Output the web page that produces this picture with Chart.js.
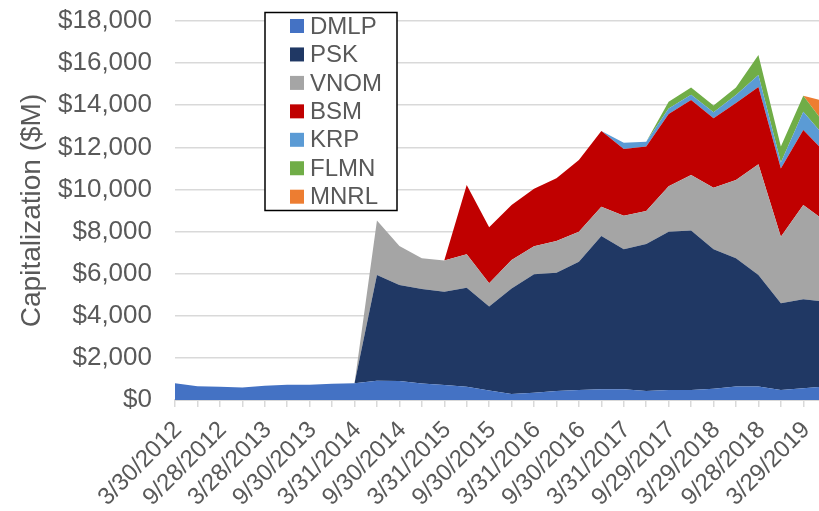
<!DOCTYPE html>
<html>
<head>
<meta charset="utf-8">
<script src="https://cdn.jsdelivr.net/npm/chart.js@4/dist/chart.umd.min.js"></script>
<style>
  html, body { margin: 0; padding: 0; background: #ffffff; overflow: hidden; }
  #wrap { width: 819px; height: 511px; position: relative; }
</style>
</head>
<body>
<div id="wrap"><canvas id="c" width="819" height="511"></canvas></div>
<script>
// Quarter-end dates (category axis)
const dates = [
  "3/30/2012","6/29/2012","9/28/2012","12/31/2012",
  "3/28/2013","6/28/2013","9/30/2013","12/31/2013",
  "3/31/2014","6/30/2014","9/30/2014","12/31/2014",
  "3/31/2015","6/30/2015","9/30/2015","12/31/2015",
  "3/31/2016","6/30/2016","9/30/2016","12/30/2016",
  "3/31/2017","6/30/2017","9/29/2017","12/29/2017",
  "3/29/2018","6/29/2018","9/28/2018","12/31/2018",
  "3/29/2019","6/28/2019"
];

// Series values, capitalization in $M (stacked)
const seriesNames = ["DMLP","PSK","VNOM","BSM","KRP","FLMN","MNRL"];
const DMLP = [790,650,630,590,680,720,720,770,800,920,900,780,710,630,450,280,340,425,475,510,510,430,475,480,530,640,640,470,560,650];
const PSK  = [0,0,0,0,0,0,0,0,0,5020,4560,4490,4435,4705,3985,5020,5635,5620,6095,7280,6645,6980,7520,7565,6625,6090,5300,4120,4220,4015];
const VNOM = [0,0,0,0,0,0,0,0,0,2580,1855,1460,1475,1585,1105,1350,1325,1505,1425,1390,1600,1570,2155,2645,2930,3720,5255,3165,4480,3810];
const BSM  = [0,0,0,0,0,0,0,0,0,0,0,0,0,3290,2660,2610,2730,2980,3405,3595,3165,3055,3430,3560,3295,3660,3670,3245,3565,3245];
const KRP  = [0,0,0,0,0,0,0,0,0,0,0,0,0,0,0,0,0,0,0,0,300,235,270,250,290,380,575,280,870,735];
const FLMN = [0,0,0,0,0,0,0,0,0,0,0,0,0,0,0,0,0,0,0,0,0,0,320,340,320,350,950,755,755,585];
const MNRL = [0,0,0,0,0,0,0,0,0,0,0,0,0,0,0,0,0,0,0,0,0,0,0,0,0,0,0,0,0,1130];

const seriesValues = [DMLP, PSK, VNOM, BSM, KRP, FLMN, MNRL];
const seriesColors = ["#4472C4","#203864","#A5A5A5","#C00000","#5B9BD5","#70AD47","#ED7D31"];

// y-axis ticks
const yMin = 0, yMax = 18000, yStep = 2000;

const datasets = seriesNames.map((name, k) => ({
  label: name,
  data: seriesValues[k].map((v, i) => ({ x: i, y: v })),
  backgroundColor: seriesColors[k],
  borderColor: "rgba(0,0,0,0)",
  borderWidth: 0,
  pointRadius: 0,
  pointHoverRadius: 0,
  tension: 0,
  fill: k === 0 ? "origin" : "-1"
}));

const boxLegend = {
  id: "boxLegend",
  afterDraw(chart) {
    const ctx = chart.ctx;
    ctx.save();
    const bx = 265, by = 12.5, bw = 132, bh = 198;
    ctx.fillStyle = "#ffffff";
    ctx.fillRect(bx, by, bw, bh);
    ctx.strokeStyle = "#000000";
    ctx.lineWidth = 1.5;
    ctx.strokeRect(bx, by, bw, bh);
    ctx.font = "24px 'Liberation Sans', Arial, sans-serif";
    ctx.textBaseline = "middle";
    ctx.textAlign = "left";
    chart.data.datasets.forEach((ds, k) => {
      const cy = 26 + k * 28.45;
      ctx.fillStyle = ds.backgroundColor;
      ctx.fillRect(290, cy - 7, 14, 14);
      ctx.fillStyle = "#595959";
      ctx.fillText(ds.label, 310, cy + 1);
    });
    ctx.restore();
  }
};

new Chart(document.getElementById("c"), {
  type: "line",
  data: { datasets },
  plugins: [boxLegend],
  options: {
    responsive: false,
    animation: false,
    devicePixelRatio: 1,
    layout: { padding: { top: 21, right: 0, left: 0, bottom: 0 } },
    plugins: {
      legend: { display: false },
      tooltip: { enabled: false }
    },
    scales: {
      x: {
        type: "linear",
        min: 0,
        max: 28.7,
        grid: {
          display: true,
          drawOnChartArea: false,
          drawTicks: true,
          tickLength: 7,
          color: "#D9D9D9",
          lineWidth: 1.5
        },
        border: { display: true, color: "#D9D9D9", width: 2 },
        ticks: {
          stepSize: 1,
          autoSkip: false,
          includeBounds: false,
          minRotation: 45,
          maxRotation: 45,
          padding: 9,
          labelOffset: 3,
          color: "#595959",
          font: { family: "'Liberation Sans', Arial, sans-serif", size: 24 },
          callback: (v) => (Number.isInteger(v) && v % 2 === 0 && dates[v]) ? dates[v] : ""
        },
        afterFit: (s) => { s.height = 111; s.paddingLeft = 0; s.paddingRight = 0; }
      },
      y: {
        stacked: true,
        min: yMin,
        max: yMax,
        grid: { color: "#D9D9D9", lineWidth: 1.5, drawTicks: false },
        border: { display: false },
        ticks: {
          stepSize: yStep,
          padding: 23,
          color: "#595959",
          font: { family: "'Liberation Sans', Arial, sans-serif", size: 26 },
          callback: (v) => "$" + Number(v).toLocaleString("en-US")
        },
        title: {
          display: true,
          text: "Capitalization ($M)",
          color: "#595959",
          font: { family: "'Liberation Sans', Arial, sans-serif", size: 28, weight: "normal" },
          padding: { top: 15, bottom: 0 }
        },
        afterFit: (s) => { s.width = 175; s.paddingTop = 0; s.paddingBottom = 0; }
      }
    }
  }
});
</script>
</body>
</html>
